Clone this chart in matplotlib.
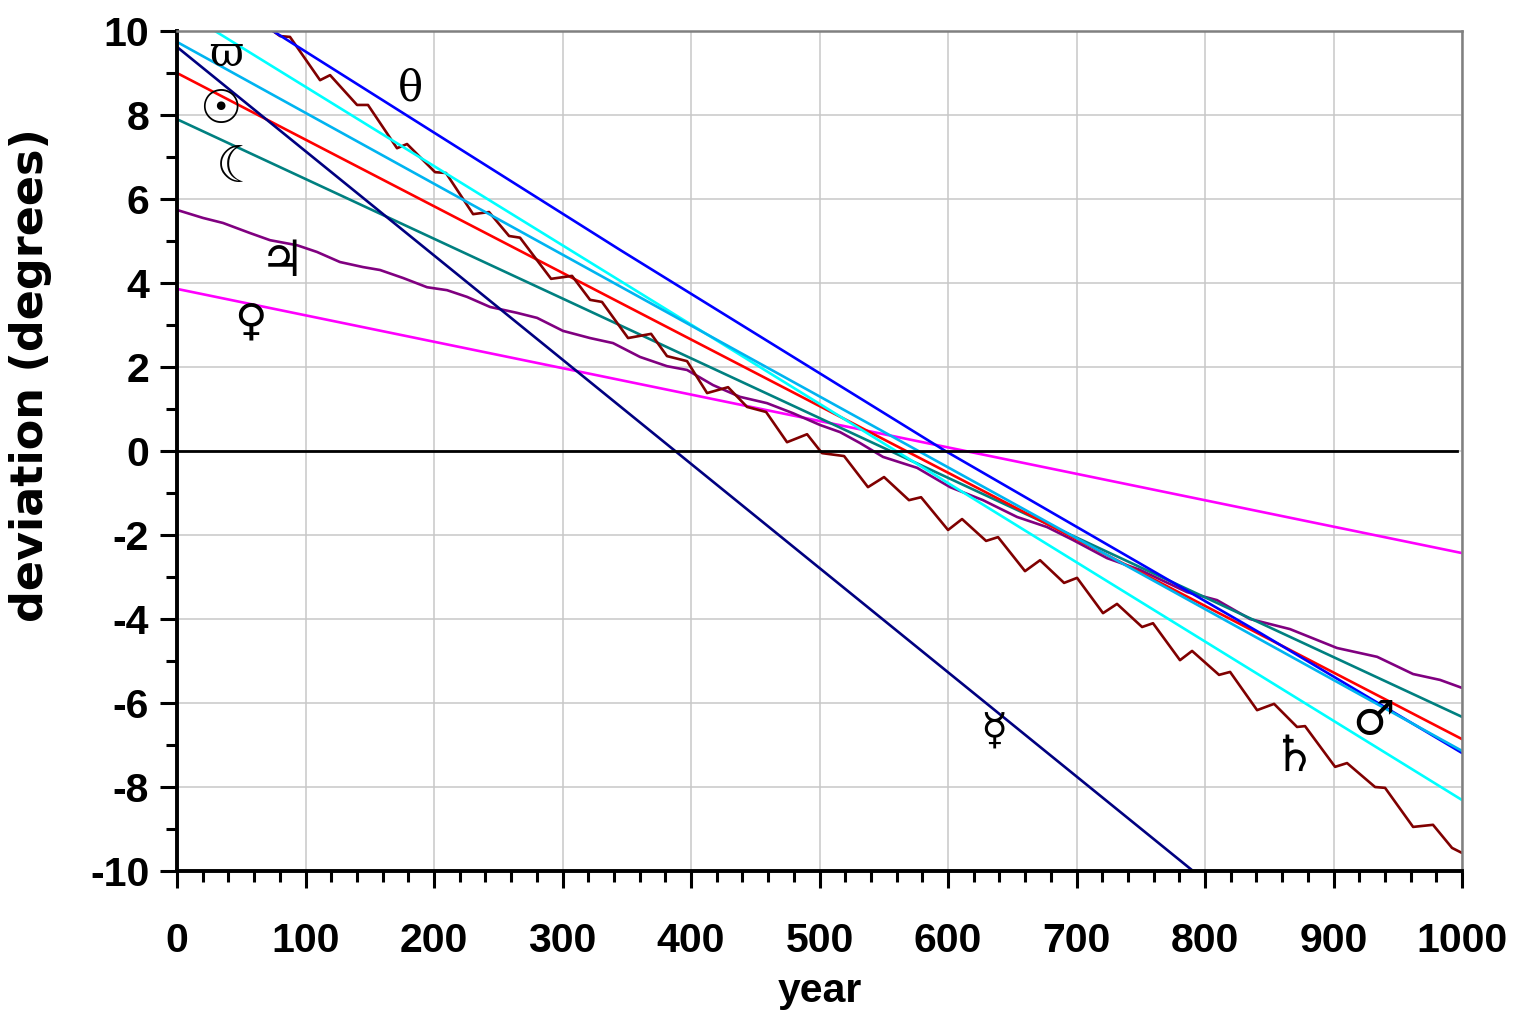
"""Desviación (grados) frente al año para varios cuerpos celestes."""

import matplotlib
matplotlib.use("Agg")
import matplotlib.pyplot as plt
from matplotlib.ticker import MultipleLocator

# Guion normal en los números negativos, como en el original.
plt.rcParams["axes.unicode_minus"] = False

# --- Datos ---
# Rectas: años y desviaciones en los extremos (y algún punto intermedio).
mercurio_anio = [0, 790.7]
mercurio_desv = [9.62, -10.0]

sol_anio = [0, 1000]
sol_desv = [9.0, -6.86]

luna_anio = [0, 1000]
luna_desv = [7.90, -6.33]

venus_anio = [0, 1000]
venus_desv = [3.86, -2.43]

theta_anio = [74.7, 344.7, 598.0, 842.8, 1000]
theta_desv = [10.0, 4.79, 0.0, -4.33, -7.19]

azul_cielo_anio = [0, 1000]
azul_cielo_desv = [9.74, -7.14]

cian_anio = [29.6, 1000]
cian_desv = [10.0, -8.31]

# Júpiter: curva suave con ondulación lenta.
jupiter_anio = [0, 20.2, 35.8, 56.8, 72.4, 93.4, 108.9, 126.8, 144.7, 158.0,
                175.9, 194.6, 210.1, 225.7, 243.6, 264.6, 280.2, 300.4, 321.4,
                339.3, 360.3, 381.3, 396.9, 417.1, 438.1, 459.1, 479.4, 500.4,
                516.0, 531.5, 549.4, 575.9, 601.6, 627.2, 653.7, 677.0, 697.3,
                723.7, 749.4, 786.0, 809.3, 835.0, 866.1, 902.7, 933.9, 961.9,
                982.9, 1000]
jupiter_desv = [5.74, 5.55, 5.43, 5.19, 5.02, 4.90, 4.74, 4.50, 4.38, 4.31,
                4.12, 3.90, 3.83, 3.67, 3.43, 3.29, 3.17, 2.86, 2.69,
                2.57, 2.24, 2.02, 1.93, 1.57, 1.29, 1.14, 0.90, 0.62,
                0.45, 0.19, -0.14, -0.40, -0.86, -1.17, -1.57, -1.81, -2.12,
                -2.55, -2.83, -3.36, -3.55, -4.00, -4.24, -4.69, -4.90, -5.31,
                -5.45, -5.64]

# Saturno: mínimos y máximos locales de la ondulación rápida.
saturno_anio = [74.7, 80.2, 87.9, 111.3, 119.1, 140.1, 148.6, 171.2, 179.0,
                200.8, 209.3, 230.4, 242.8, 258.4, 266.9, 291.1, 307.4, 321.4,
                330.7, 351.0, 368.9, 381.3, 396.9, 412.5, 428.8, 443.6, 458.4,
                474.7, 490.3, 501.9, 519.1, 537.7, 550.2, 569.6, 579.0, 600.0,
                610.9, 629.6, 638.9, 659.9, 671.6, 690.3, 700.4, 720.6, 731.5,
                751.0, 759.5, 780.5, 789.9, 810.9, 819.5, 840.5, 853.7, 871.6,
                877.8, 901.2, 910.5, 932.3, 940.1, 961.9, 977.4, 992.2, 1000]
saturno_desv = [10.0, 9.88, 9.86, 8.83, 8.95, 8.24, 8.24, 7.21, 7.31,
                6.64, 6.62, 5.64, 5.69, 5.12, 5.08, 4.10, 4.17, 3.60,
                3.55, 2.69, 2.79, 2.26, 2.14, 1.38, 1.52, 1.05, 0.93,
                0.21, 0.40, -0.05, -0.12, -0.86, -0.62, -1.17, -1.10, -1.88,
                -1.62, -2.14, -2.05, -2.86, -2.60, -3.14, -3.02, -3.86, -3.64,
                -4.19, -4.10, -4.98, -4.76, -5.33, -5.26, -6.17, -6.02, -6.57,
                -6.55, -7.52, -7.43, -8.00, -8.02, -8.95, -8.90, -9.45, -9.57]

# Símbolos que rotulan cada curva.
simbolos = ["\u03d6", "\u2609", "\u263e", "\u2643", "\u2640",
            "\u03b8", "\u263f", "\u2644", "\u2642"]


def main() -> None:
    """Dibuja la figura y la guarda como out.png."""

    fig = plt.figure(figsize=(15.34, 10.21), dpi=100)
    ax = fig.add_axes([0.1154, 0.1469, 0.8377, 0.8227])

    # --- Curvas ---
    lw = 1.9
    estilo = dict(lw=lw, solid_joinstyle="round", solid_capstyle="round")
    ax.plot(venus_anio, venus_desv, color="#FF00FF", **estilo)
    ax.plot(jupiter_anio, jupiter_desv, color="#800080", **estilo)
    ax.plot(luna_anio, luna_desv, color="#008080", **estilo)
    ax.plot(sol_anio, sol_desv, color="#FF0000", **estilo)
    ax.plot(mercurio_anio, mercurio_desv, color="#000080", **estilo)
    ax.plot(saturno_anio, saturno_desv, color="#800000", **estilo)
    ax.plot(cian_anio, cian_desv, color="#00FFFF", **estilo)
    ax.plot(theta_anio, theta_desv, color="#0000FF", **estilo)
    ax.plot(azul_cielo_anio, azul_cielo_desv, color="#00B4F0", **estilo)

    # Línea de desviación cero.
    ax.axhline(0, color="black", lw=2, xmax=0.996)

    # --- Rótulos de cada cuerpo ---
    posiciones = [(38, 9.45), (33.5, 8.1), (47.5, 6.75), (81.7, 4.5), (56.8, 3.07),
                  (182, 8.64), (635.8, -6.69), (868.5, -7.29), (930.7, -6.45)]
    tamanos = [30, 34, 36, 36, 32, 30, 32, 36, 34]
    for simbolo, (px, py), tam in zip(simbolos, posiciones, tamanos):
        familia = ["DejaVu Serif", "DejaVu Sans"] if simbolo in "\u03d6\u03b8" else ["DejaVu Sans"]
        ax.text(px, py, simbolo, fontsize=tam, ha="center", va="center",
                family=familia, color="black")

    # --- Ejes ---
    ax.set_xlim(0, 1000)
    ax.set_ylim(-10, 10)
    ax.xaxis.set_major_locator(MultipleLocator(100))
    ax.xaxis.set_minor_locator(MultipleLocator(20))
    ax.yaxis.set_major_locator(MultipleLocator(2))
    ax.yaxis.set_minor_locator(MultipleLocator(1))
    ax.grid(True, which="major", color="#C8C8C8", lw=1.1)
    ax.set_axisbelow(True)

    for lado in ("left", "bottom"):
        ax.spines[lado].set_linewidth(2.8)
        ax.spines[lado].set_color("black")
    for lado in ("top", "right"):
        ax.spines[lado].set_linewidth(1.8)
        ax.spines[lado].set_color("#808080")

    ax.tick_params(which="major", direction="out", length=12, width=2.2,
                   top=False, right=False)
    ax.tick_params(which="minor", direction="out", length=8, width=2.2,
                   top=False, right=False)
    ax.tick_params(axis="x", which="major", pad=25)
    ax.tick_params(axis="y", which="major", pad=8)

    for etiqueta in ax.get_xticklabels() + ax.get_yticklabels():
        etiqueta.set_fontfamily("Liberation Sans")
        etiqueta.set_fontweight("bold")
        etiqueta.set_fontsize(29.5)

    ax.set_xlabel("year", fontfamily="Liberation Sans", fontweight="bold",
                  fontsize=29.5, labelpad=8)
    ax.set_ylabel("deviation (degrees)", fontfamily="DejaVu Sans",
                  fontweight="bold", fontsize=32)
    ax.yaxis.set_label_coords(-0.097, 0.59)

    fig.savefig("out.png", dpi=100)
    plt.close(fig)


if __name__ == "__main__":
    main()
